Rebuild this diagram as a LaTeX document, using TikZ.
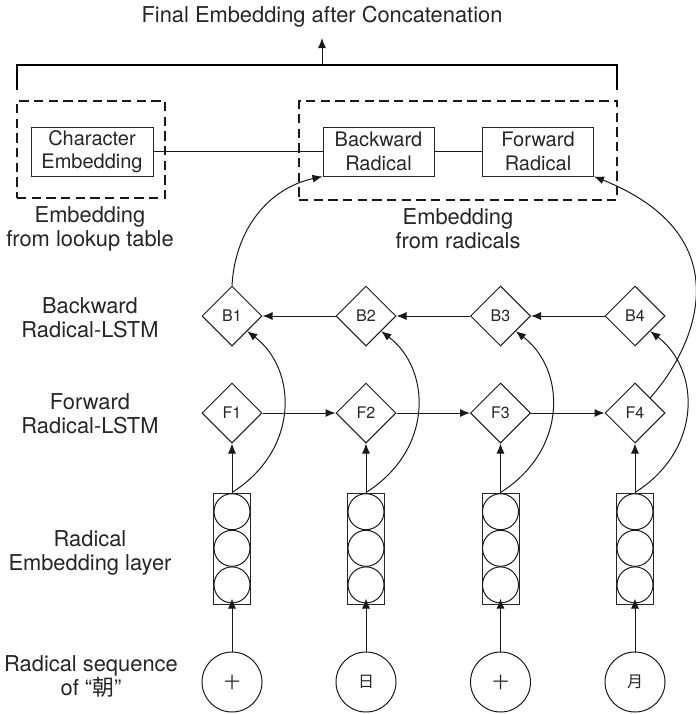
\documentclass[tikz,border=0pt]{standalone}
\usepackage{fontspec}
\setmainfont{TeX Gyre Heros}
\newfontfamily\cjk{Noto Sans CJK SC}
\usetikzlibrary{shapes.geometric,arrows.meta}
\begin{document}
\begin{tikzpicture}[x=0.75pt,y=-0.75pt,
  every node/.style={text=black!85},
  ln/.style={line width=0.75pt,draw=black!90},
  arr/.style={ln,-{Latex[length=7.5pt,width=6pt]}},
  lbl/.style={font=\fontsize{16.4}{18}\selectfont,align=center,inner sep=0pt},
  dbox/.style={draw=black!90,line width=1pt,dash pattern=on 7pt off 4pt,inner sep=0pt},
  tbox/.style={draw=black!85,line width=0.75pt,font=\fontsize{15}{17.5}\selectfont,align=center,inner sep=0pt,minimum height=36.75pt},
  dia/.style={diamond,draw=black!90,line width=0.75pt,inner sep=0pt,minimum width=45pt,minimum height=45pt,font=\fontsize{12}{14}\selectfont},
  ebox/.style={draw=black!85,line width=0.75pt,inner sep=0pt,minimum width=27.75pt,minimum height=83.25pt},
  ecirc/.style={circle,draw=black!90,line width=0.75pt,inner sep=0pt,minimum size=27pt},
  rcirc/.style={circle,draw=black!90,line width=0.75pt,inner sep=0pt,minimum size=45pt,font=\cjk\fontsize{12}{14}\selectfont}]
\useasboundingbox (0,0) rectangle (696,714);

% top
\node[lbl] (final) at (322,17) {Final Embedding after Concatenation};
\coordinate (bl) at (17,90);
\coordinate (br) at (617,90);
\coordinate (bm) at (322,65);
\coordinate (tip) at (322,38);
\draw[line width=1pt] (bl) |- (bm) -| (br);
\draw[arr] (bm) -- (tip);

% dashed boxes
\node[dbox,minimum width=111pt,minimum height=72.75pt] (dl) at (91,149.5) {};
\node[dbox,minimum width=238.5pt,minimum height=74.25pt] (dr) at (458,150.5) {};
\node[tbox,minimum width=91.5pt] (ce) at (92,151.5) {Character\\Embedding};
\node[tbox,minimum width=83.25pt] (br2) at (378.5,151.5) {Backward\\Radical};
\node[tbox,minimum width=83.25pt] (fr) at (538,151.5) {Forward\\Radical};
\draw[ln] (ce.east) -- (br2.west);
\draw[ln] (br2.east) -- (fr.west);
\node[lbl] (l1) at (90,229) {Embedding\\from lookup table};
\node[lbl] (l2) at (458,229) {Embedding\\from radicals};

% left labels
\node[lbl] (lb) at (90,318) {Backward\\Radical-LSTM};
\node[lbl] (lf) at (90,414) {Forward\\Radical-LSTM};
\node[lbl] (le) at (90,553) {Radical\\Embedding layer};
\node[lbl] (lr) at (91,676) {Radical sequence\\of “{\cjk 朝}”};

% columns
\foreach \i/\x/\c in {1/232/十,2/366/日,3/500.5/十,4/635/月}{
  \node[dia] (B\i) at (\x,316) {B\i};
  \node[dia] (F\i) at (\x,413) {F\i};
  \node[ebox] (E\i) at (\x,548.5) {};
  \node[ecirc] (E\i a) at (\x,511.7) {};
  \node[ecirc] (E\i b) at (\x,548.3) {};
  \node[ecirc] (E\i c) at (\x,584.9) {};
  \node[rcirc] (R\i) at (\x,682) {\c};
  \draw[arr] (R\i.north) -- ([yshift=4.5pt]E\i.south);
  \draw[arr] (E\i.north) -- (F\i.south);
  \draw[arr] (E\i.north) .. controls ++(68,-43) and ++(50,38) .. (B\i.south east);
}
\draw[arr] (F1.east) -- (F2.west);
\draw[arr] (F2.east) -- (F3.west);
\draw[arr] (F3.east) -- (F4.west);
\draw[arr] (B4.west) -- (B3.east);
\draw[arr] (B3.west) -- (B2.east);
\draw[arr] (B2.west) -- (B1.east);

\draw[arr] (B1.north) .. controls ++(3,-55) and ++(-55,12) .. (br2.south west);
\draw[arr] (F4.north east) .. controls ++(45,-50) and ++(150,60) .. (fr.south east);
\end{tikzpicture}
\end{document}
